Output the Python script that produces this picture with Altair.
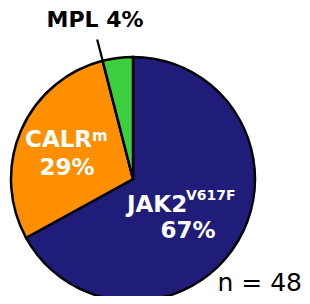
import math
import altair as alt
import pandas as pd

# ---- data ----
categories = ["JAK2", "CALR", "MPL"]
superscripts = ["V617F", "m", ""]
percents = [67, 29, 4]
colors = ["#1F1C7A", "#FD8F00", "#3DCF3D"]
n_total = 48

FONT = "DejaVu Sans"
CX, CY = 125, 171   # pie centre inside the plot area
R = 122

df = pd.DataFrame({"cat": categories, "pct": percents, "order": list(range(len(categories)))})
theta_scale = alt.Scale(domain=[0, 100])

pie = alt.Chart(df).mark_arc(outerRadius=R, stroke="black", strokeWidth=2.5).encode(
    theta=alt.Theta("pct:Q", stack=True, scale=theta_scale),
    color=alt.Color("cat:N", scale=alt.Scale(domain=categories, range=colors), legend=None),
    order=alt.Order("order:Q"),
    x=alt.value(CX),
    y=alt.value(CY),
)

# leader line for the small MPL slice: radial, along the slice's starting boundary
ang = sum(percents[:2]) / sum(percents) * 2 * math.pi
r_in, r_out = R, R + 22
leader = alt.Chart(pd.DataFrame({"k": [0]})).mark_rule(
    color="black", strokeWidth=2.2
).encode(
    x=alt.value(CX + r_in * math.sin(ang)),
    y=alt.value(CY - r_in * math.cos(ang)),
    x2=alt.value(CX + r_out * math.sin(ang)),
    y2=alt.value(CY - r_out * math.cos(ang)),
)


def label(text, x, y, size, color, align="center", weight="bold"):
    return alt.Chart(pd.DataFrame({"t": [text]})).mark_text(
        font=FONT, fontSize=size, fontWeight=weight, color=color,
        align=align, baseline="alphabetic",
    ).encode(text="t:N", x=alt.value(x), y=alt.value(y))


layers = [
    pie,
    leader,
    label(f"{categories[2]} {percents[2]}%", 87, 19, 22, "black"),
    label(categories[1], 17, 139, 23, "white", align="left"),
    label(superscripts[1], 84, 133, 15, "white", align="left"),
    label(f"{percents[1]}%", 59, 167, 23, "white"),
    label(categories[0], 119, 204, 23, "white", align="left"),
    label(superscripts[0], 178, 192, 14, "white", align="left"),
    label(f"{percents[0]}%", 180, 230, 23, "white"),
    label(f"n = {n_total}", 294, 283, 25, "black", align="right", weight="normal"),
]

chart = alt.layer(*layers).properties(
    width=294, height=288, autosize=alt.AutoSizeParams(type="none"), padding=0
).configure_view(stroke=None)

chart.save("out.html", embed_options={"renderer": "svg", "actions": False})
